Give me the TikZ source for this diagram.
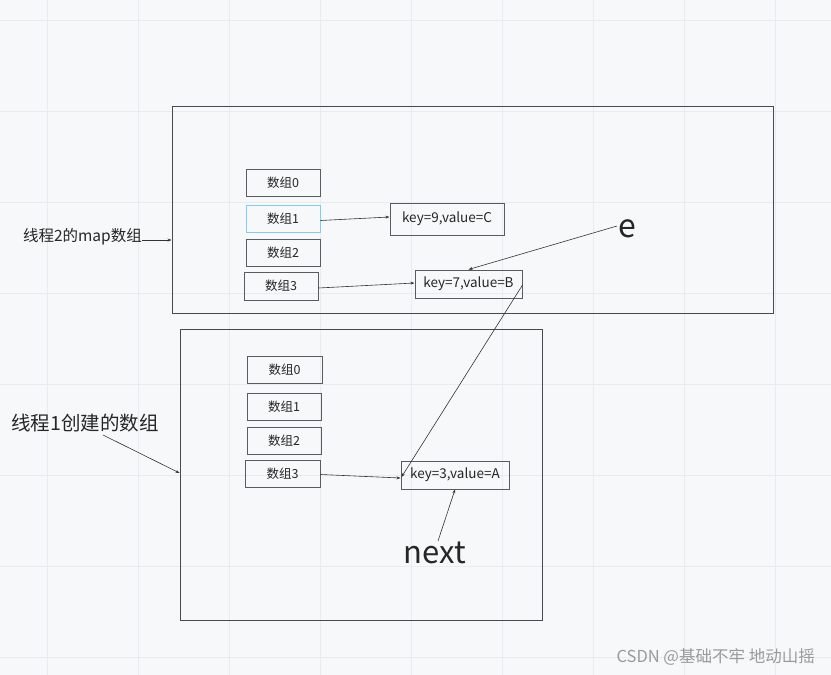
\documentclass[tikz,border=0pt]{standalone}
\usepackage{fontspec}
\setmainfont{Noto Sans CJK SC}
\usetikzlibrary{arrows.meta,calc}
\definecolor{bgcol}{HTML}{F7F8FA}
\definecolor{gridcol}{HTML}{EAEBEE}
\definecolor{framecol}{HTML}{4A4A4E}
\definecolor{cellcol}{HTML}{5A5B60}
\definecolor{selcol}{HTML}{7FCDF2}
\definecolor{markcol}{HTML}{9A9A9A}
\tikzset{
  frame/.style={draw=framecol, line width=0.9pt, inner sep=0pt},
  cell/.style={draw=cellcol, line width=1pt, minimum width=74pt, minimum height=27pt,
    inner sep=0pt, font=\fontsize{12.5}{14}\selectfont, text=black!85},
  entry/.style={draw=cellcol, line width=1pt, minimum height=28pt,
    inner sep=0pt, font=\fontsize{13.5}{15}\selectfont, text=black!85},
  link/.style={draw=black!80, line width=0.6pt, -{Stealth[length=4pt,width=3pt]}},
  caption/.style={inner sep=0pt, text=black!85}
}
\begin{document}
\begin{tikzpicture}[x=1pt,y=-1pt]
  % canvas and grid
  \fill[bgcol] (0,0) rectangle (831,675);
  \useasboundingbox (0,0) rectangle (831,675);
  \foreach \gx in {47,138,...,831} \draw[gridcol, line width=0.8pt] (\gx,0) -- (\gx,675);
  \foreach \gy in {20,111,...,675} \draw[gridcol, line width=0.8pt] (0,\gy) -- (831,\gy);

  % outer frames
  \node[frame, minimum width=601pt, minimum height=207pt] (mapbox) at (472.5,209.5) {};
  \node[frame, minimum width=362pt, minimum height=291pt] (newbox) at (361,474.5) {};

  % map array of thread 2
  \node[cell] (a0) at (283,182.5) {数组0};
  \node[cell, draw=selcol] (a1) at (283,218.5) {数组1};
  \node[cell] (a2) at (283,252.5) {数组2};
  \node[cell, minimum height=28pt] (a3) at (281,286) {数组3};
  \node[entry, minimum width=114pt, minimum height=32pt] (kC) at (447,219) {key=9,value=C};
  \node[entry, minimum width=107pt] (kB) at (468.5,284) {key=7,value=B};

  % array created by thread 1
  \node[cell, minimum width=75pt] (b0) at (284.5,369.5) {数组0};
  \node[cell] (b1) at (284,406.5) {数组1};
  \node[cell] (b2) at (284,440.5) {数组2};
  \node[cell, minimum width=75pt] (b3) at (282.5,473.5) {数组3};
  \node[entry, minimum width=108pt] (kA) at (455,475) {key=3,value=A};

  % captions
  \node[caption, anchor=east, font=\fontsize{15.5}{17}\selectfont] (lblMap) at (142,237) {线程2的map数组};
  \node[caption, font=\fontsize{19.5}{21}\selectfont] (lblNew) at (85,423) {线程1创建的数组};
  \node[caption, font=\fontsize{32}{34}\selectfont] (ev) at (627,229) {e};
  \node[caption, font=\fontsize{31}{33}\selectfont] (nx) at (435,553) {next};
  \node[inner sep=0pt, anchor=east, text=markcol, font=\fontsize{16.5}{18}\selectfont] (mark) at (815,657) {CSDN @基础不牢 地动山摇};

  % free ends of the caption pointers
  \coordinate (mapIn) at (mapbox.west |- 0,240);
  \coordinate (newFrom) at (103,435);
  \coordinate (newIn) at (newbox.west |- 0,473);
  \coordinate (eFrom) at (617,226);
  \coordinate (nxFrom) at (438,541);

  % connectors
  \draw[link] (lblMap.east |- mapIn) -- (mapIn);
  \draw[link] (newFrom) -- (newIn);
  \draw[link] ($(a1.east)+(0,2)$) -- ($(kC.west)+(0,-2)$);
  \draw[link] ($(a3.east)+(0,2)$) -- ($(kB.west)+(0,-1)$);
  \draw[link] ($(b3.east)+(0,1)$) -- ($(kA.west)+(0,3)$);
  \draw[link] (eFrom) -- (kB.north);
  \draw[link] ($(kB.east)+(0,1)$) -- ($(kA.west)+(1,2)$);
  \draw[link] (nxFrom) -- (kA.south);
\end{tikzpicture}
\end{document}
